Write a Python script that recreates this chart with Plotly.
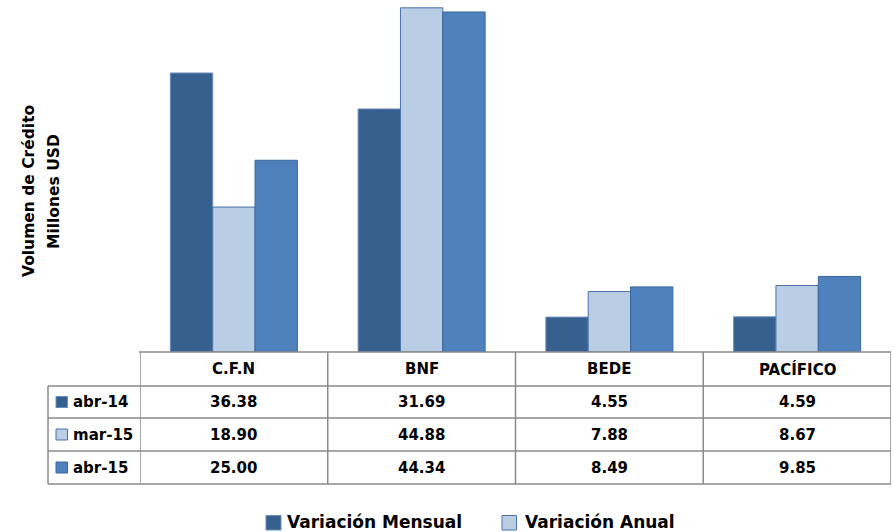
import plotly.graph_objects as go

# ---------------- data ----------------
categories = ["C.F.N", "BNF", "BEDE", "PACÍFICO"]
series_names = ["abr-14", "mar-15", "abr-15"]
abr_14 = [36.38, 31.69, 4.55, 4.59]
mar_15 = [18.90, 44.88, 7.88, 8.67]
abr_15 = [25.00, 44.34, 8.49, 9.85]
legend_labels = ["Variación Mensual", "Variación Anual"]
y_title_lines = ["Volumen de Crédito", "Millones USD"]

series_values = [abr_14, mar_15, abr_15]

# ---------------- styles ----------------
fills = ["#36618F", "#B9CDE5", "#4F81BD"]
edges = ["#6A8DBA", "#4A72A8", "#3A669E"]
grid_col = "#8A8A8A"
FONT = "DejaVu Sans"

W, H = 894, 532
L, R, T, B = 140, 3, 0, 180
PW = W - L - R
PH = H - T - B


def px(x):
    return (x - L) / PW


def py(y):
    return (H - B - y) / PH


fig = go.Figure()
for name, vals, fc, ec in zip(series_names, series_values, fills, edges):
    fig.add_trace(go.Bar(
        x=categories, y=vals, name=name,
        marker=dict(color=fc, line=dict(color=ec, width=1)),
        showlegend=False, hoverinfo="x+y+name",
    ))

shapes = []
ann = []
line = dict(color=grid_col, width=1.5)

# table horizontal lines
shapes.append(dict(type="line", xref="paper", yref="paper",
                   x0=px(139), x1=1, y0=py(352), y1=py(352), line=line))
for yy in [386, 418, 451, 484]:
    shapes.append(dict(type="line", xref="paper", yref="paper",
                       x0=px(48), x1=1, y0=py(yy), y1=py(yy), line=line))
# table vertical lines
shapes.append(dict(type="line", xref="paper", yref="paper",
                   x0=px(48), x1=px(48), y0=py(386), y1=py(484), line=line))
for i in range(len(categories) + 1):
    shapes.append(dict(type="line", xref="x", yref="paper",
                       x0=i - 0.5, x1=i - 0.5, y0=py(352), y1=py(484), line=line))

row_centers = [402, 434.5, 467.5]
header_center = 369

cell_font = dict(family=FONT, size=15, color="#000000", weight="bold")

for i, cat in enumerate(categories):
    ann.append(dict(xref="x", yref="paper", x=i, y=py(header_center),
                    text=cat, showarrow=False, font=cell_font,
                    xanchor="center", yanchor="middle"))
    for r, vals in enumerate(series_values):
        ann.append(dict(xref="x", yref="paper", x=i, y=py(row_centers[r]),
                        text=f"{vals[i]:.2f}", showarrow=False, font=cell_font,
                        xanchor="center", yanchor="middle"))

for r, name in enumerate(series_names):
    yc = row_centers[r]
    shapes.append(dict(type="rect", xref="paper", yref="paper",
                       x0=px(56), x1=px(67.5), y0=py(yc - 5.5), y1=py(yc + 5.5),
                       fillcolor=fills[r], line=dict(color=edges[r], width=1)))
    ann.append(dict(xref="paper", yref="paper", x=px(71), y=py(yc),
                    text=name, showarrow=False, font=cell_font,
                    xanchor="left", yanchor="middle"))

# y-axis title (two lines)
title_font = dict(family=FONT, size=15.5, color="#000000", weight="bold")
ann.append(dict(xref="paper", yref="paper", x=px(29.5), y=py(191.5),
                text=y_title_lines[0], textangle=-90, showarrow=False,
                font=title_font, xanchor="center", yanchor="middle"))
ann.append(dict(xref="paper", yref="paper", x=px(54.5), y=py(191.5),
                text=y_title_lines[1], textangle=-90, showarrow=False,
                font=title_font, xanchor="center", yanchor="middle"))

# bottom legend
leg_sq = [(266, 281), (502, 516.5)]
leg_tx = [285, 523]
for k, lab in enumerate(legend_labels):
    shapes.append(dict(type="rect", xref="paper", yref="paper",
                       x0=px(leg_sq[k][0]), x1=px(leg_sq[k][1]),
                       y0=py(515.5), y1=py(530),
                       fillcolor=fills[k], line=dict(color=edges[k], width=1)))
    ann.append(dict(xref="paper", yref="paper", x=px(leg_tx[k]), y=py(522),
                    text=lab, showarrow=False,
                    font=dict(family=FONT, size=17, color="#000000", weight="bold"),
                    xanchor="left", yanchor="middle"))

fig.update_layout(
    width=W, height=H,
    margin=dict(l=L, r=R, t=T, b=B, pad=0),
    paper_bgcolor="white", plot_bgcolor="white",
    barmode="group", bargap=0.3236, bargroupgap=0,
    xaxis=dict(visible=False, range=[-0.5, len(categories) - 0.5]),
    yaxis=dict(visible=False, range=[0, 45.9]),
    shapes=shapes, annotations=ann,
    showlegend=False,
)

fig.write_html(
    "out.html",
    config={"displayModeBar": False},
    post_script="document.body.style.margin='0';document.body.style.padding='0';"
                "document.documentElement.style.overflow='hidden';",
)
